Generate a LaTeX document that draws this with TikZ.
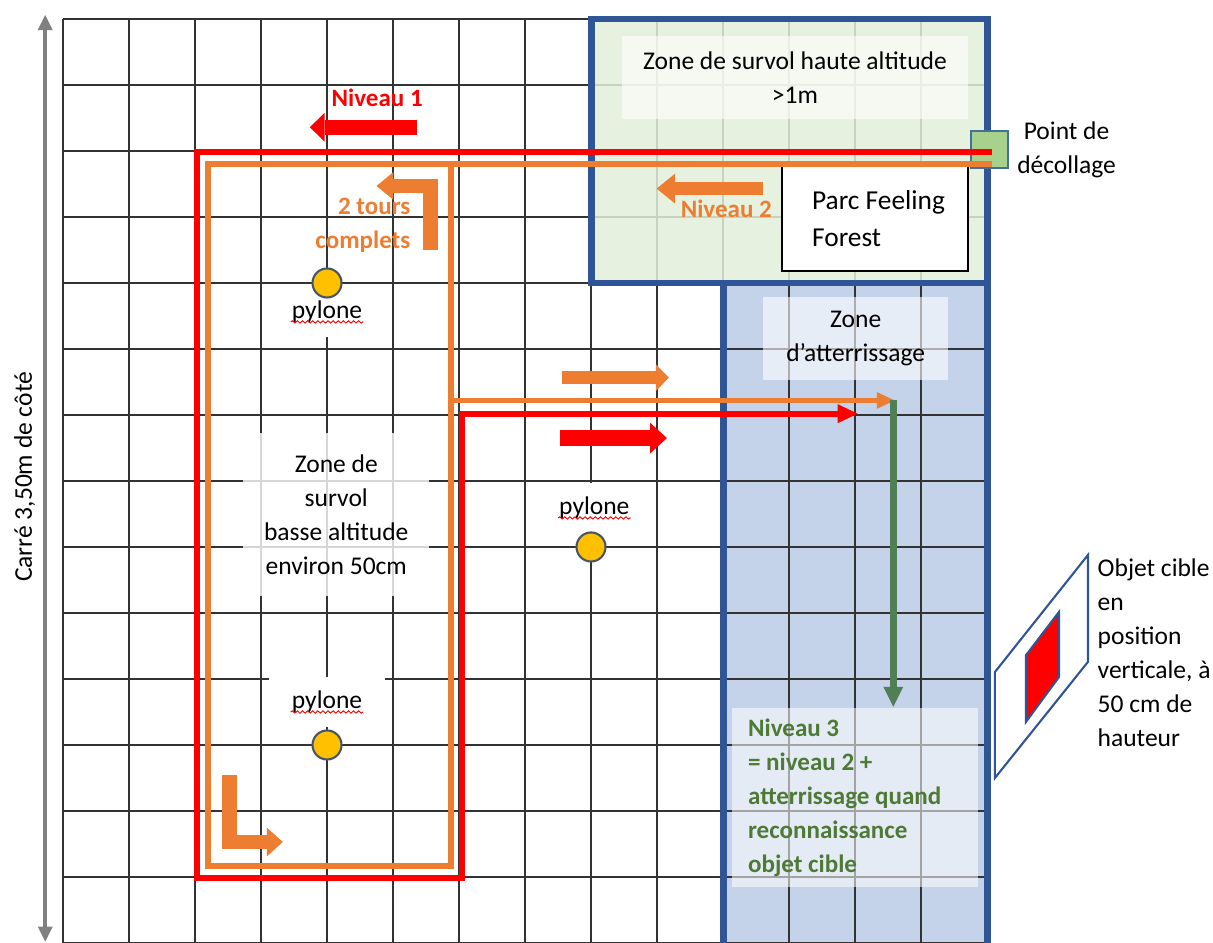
\documentclass[tikz,border=0pt]{standalone}
\usepackage{fontspec}
\setmainfont{Carlito}
\usetikzlibrary{arrows.meta,positioning,decorations.pathmorphing}
\definecolor{bleuBord}{HTML}{2F5597}
\definecolor{bleuZone}{HTML}{C5D3EA}
\definecolor{vertZone}{HTML}{E2F0D9}
\definecolor{vertPoint}{HTML}{A9D18E}
\definecolor{bordPoint}{HTML}{41719C}
\definecolor{orangeN}{HTML}{ED7D31}
\definecolor{vertN}{HTML}{4E7A36}
\definecolor{vertFleche}{HTML}{507E55}
\definecolor{jaunePylone}{HTML}{FFC000}
\definecolor{grisPylone}{HTML}{44546A}

\begin{document}
\begin{tikzpicture}[
  texte/.style={font=\fontsize{11}{14.6}\selectfont, align=center},
  gras/.style={font=\fontsize{10.8}{14.6}\selectfont\bfseries, inner sep=0pt},
  boite/.style={texte, fill=white, fill opacity=.6, text opacity=1, inner sep=0pt},
  bordure/.style={draw=bleuBord, line width=3pt},
  route/.style={line width=2.6pt},
  bloc/.style args={#1/#2/#3}{line width=#1, -{Triangle[length=#2, width=#3, line width=0pt]}},
  pylone/.style={circle, draw=grisPylone, fill=jaunePylone, line width=.9pt, minimum size=.44cm, inner sep=0pt},
  etiquette/.style={texte, fill=white, minimum width=1.75cm, minimum height=.75cm, inner sep=0pt},
  souligne/.style={red, line width=.4pt, decorate, decoration={snake, amplitude=.5pt, segment length=2.2pt}},
  cote/.style={black!50, line width=1.6pt, {Triangle[length=6.5pt, width=6.5pt, line width=0pt]}-{Triangle[length=6.5pt, width=6.5pt, line width=0pt]}}
]
\useasboundingbox (-0.955,0) rectangle (17.424,14.288);

\fill[bleuZone] (10,0) rectangle (14,10);
\draw[black!80, line width=.6pt] (0,0) grid (14,14);
\fill[vertZone, fill opacity=.85] (8,10) rectangle (14,14);

\node[boite, minimum width=5.23cm, minimum height=1.25cm] (ZoneHaute) at (11.09,13.11) {Zone de survol haute altitude\\>1m};
\node[boite, fill opacity=.8, minimum width=2.82cm, minimum height=2.48cm] (ZoneBasse) at (4.14,6.49) {Zone de\\survol\\basse altitude\\environ 50cm};
\node[boite, minimum width=2.8cm, minimum height=1.26cm] (ZoneAtterrissage) at (12.01,9.16) {Zone\\d’atterrissage};
\node[boite, fill opacity=.55, text=vertN, font=\fontsize{10.8}{14.6}\selectfont\bfseries, align=flush left, text width=3.24cm, inner xsep=.24cm, minimum height=2.71cm] (Niveau3) at (12,2.2) {Niveau 3\\= niveau 2 +\\atterrissage quand\\reconnaissance\\objet cible};

\draw[bordure] (8,10) rectangle (14,14);
\draw[bordure] (10,10) -- (10,0);
\draw[bordure] (14,10) -- (14,0);

\node[texte, draw=black, fill=white, line width=.9pt, align=flush left, text width=2.82cm, inner xsep=0pt, minimum height=1.59cm, font=\fontsize{11.8}{16.3}\selectfont] (Parc) at (12.30,10.975) {\hspace*{4.6mm}Parc Feeling\\\hspace*{4.6mm}Forest};
\node[draw=bordPoint, fill=vertPoint, line width=.8pt, minimum size=.56cm, inner sep=0pt] (Decollage) at (14.04,12.02) {};
\node[texte, right=0mm of Decollage] (NomDecollage) {Point de\\décollage};

\draw[route, orangeN] (14.08,11.80) -- (2.19,11.80) -- (2.19,1.16) -- (5.88,1.16) -- (5.88,11.80);
\draw[orangeN, line width=2pt, -{Triangle[length=7.7pt, width=7.3pt, line width=0pt]}] (5.88,8.22) -- (12.6,8.22);
\draw[route, red, -{Triangle[length=8.6pt, width=8.2pt, line width=0pt]}] (14.08,11.99) -- (2.03,11.99) -- (2.03,0.99) -- (6.04,0.99) -- (6.04,8.02) -- (12.04,8.02);
\draw[vertFleche, line width=2.8pt, -{Triangle[length=8.6pt, width=8.6pt, line width=0pt]}] (12.58,8.22) -- (12.58,3.58);

\draw[red, bloc=6.4pt/6.4pt/12.5pt] (5.36,12.36) -- (3.74,12.36);
\draw[orangeN, bloc=5.7pt/7.9pt/12.9pt] (10.6,11.43) -- (8.995,11.43);
\draw[orangeN, bloc=5.4pt/5.6pt/11.5pt] (7.56,8.565) -- (9.18,8.565);
\draw[red, bloc=7.2pt/7.2pt/13.2pt] (7.53,7.65) -- (9.15,7.65);
\draw[orangeN, bloc=6.2pt/7.3pt/12pt] (5.57,10.5) |- (4.75,11.47);
\draw[orangeN, bloc=6.4pt/6.9pt/12.5pt] (2.52,2.545) |- (3.33,1.53);

\node[gras, text=red] (NomNiveau1) at (4.76,12.8) {Niveau 1};
\node[gras, text=orangeN] (NomNiveau2) at (10.05,11.12) {Niveau 2};
\node[gras, text=orangeN, align=right, anchor=east] (NomTours) at (5.27,10.88) {2 tours\\complets};

\node[etiquette] (NomPylone1) at (4,9.56) {pylone};
\node[etiquette] (NomPylone2) at (8.05,6.59) {pylone};
\node[etiquette] (NomPylone3) at (4,3.65) {pylone};
\draw[souligne] ([xshift=-.55cm, yshift=-.15cm]NomPylone1.center) -- ++(1.1,0);
\draw[souligne] ([xshift=-.55cm, yshift=-.15cm]NomPylone2.center) -- ++(1.1,0);
\draw[souligne] ([xshift=-.55cm, yshift=-.15cm]NomPylone3.center) -- ++(1.1,0);
\node[pylone] (Pylone1) at (4,10) {};
\node[pylone] (Pylone2) at (8,6) {};
\node[pylone] (Pylone3) at (4,3) {};

\coordinate (Haut) at (-0.27,14.06);
\coordinate (Bas) at (-0.27,0.02);
\draw[cote] (Bas) -- (Haut);
\node[texte, rotate=90] (NomCarre) at (-0.58,7.06) {Carré 3,50m de côté};

\draw[bleuBord, line width=.9pt, fill=white] (14.12,4.106) -- (15.53,5.88) -- (15.53,4.26) -- (14.12,2.5) -- cycle;
\draw[bleuBord, line width=.9pt, fill=red] (14.59,4.36) -- (15.09,5.015) -- (15.09,4.03) -- (14.59,3.35) -- cycle;
\node[texte, align=left, anchor=west, inner sep=0pt] (NomObjet) at (15.67,4.40) {Objet cible\\en\\position\\verticale, à\\50 cm de\\hauteur};
\end{tikzpicture}
\end{document}
